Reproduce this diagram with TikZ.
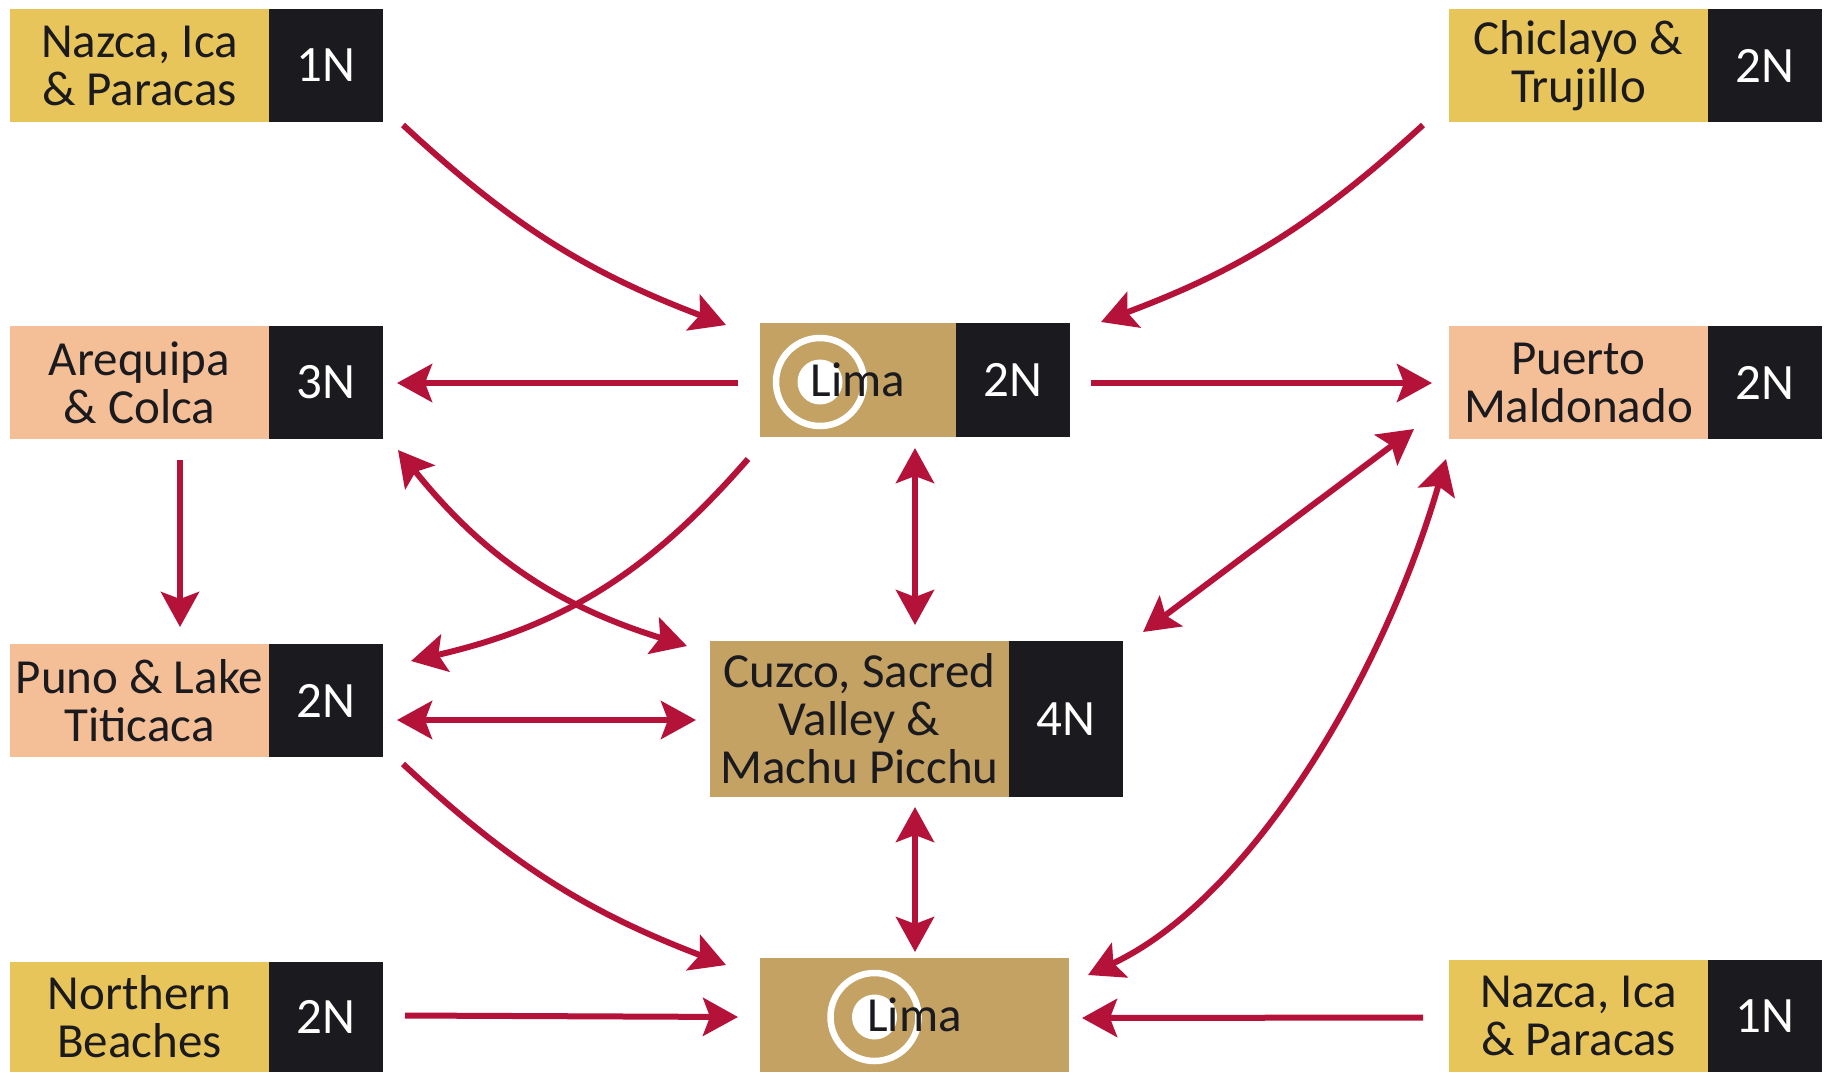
\documentclass[tikz,border=0pt]{standalone}
\usepackage{fontspec}
\setmainfont{Carlito}
\usetikzlibrary{arrows.meta,positioning}
\definecolor{route}{HTML}{B5123A}
\definecolor{hubtan}{HTML}{C4A263}
\definecolor{sideyellow}{HTML}{E8C55A}
\definecolor{sidepeach}{HTML}{F4BF97}
\definecolor{nightblack}{HTML}{1A1A1F}
\tikzset{
	place/.style={
			inner sep=0pt, outer sep=0pt, align=center, text=nightblack,
			font=\fontsize{49}{48}\selectfont, minimum height=113pt
		},
	nights/.style={
			place, fill=nightblack, text=white, minimum width=114pt,
			font=\fontsize{51}{48}\selectfont
		},
	side/.style={place, minimum width=259pt},
	hubring/.style={
			path picture={
					\fill [white] ([shift={(#1,2)}]path picture bounding box.center) circle (22.5pt);
					\draw [white, line width=6.5pt] ([shift={(#1,2)}]path picture bounding box.center) circle (44pt);
				}
		},
	trip/.style={route, line width=6pt, -{Stealth[length=35pt,width=38pt,inset=7pt]}},
	both/.style={trip, {Stealth[length=35pt,width=38pt,inset=7pt]}-{Stealth[length=35pt,width=38pt,inset=7pt]}}
}

\begin{document}
\begin{tikzpicture}[x=1pt, y=-1pt]
		\useasboundingbox (0, 0) rectangle (1831, 1072);

		\node [side, fill=sideyellow]	(nazcaA) at (139.5, 65.5) {Nazca, Ica\\\& Paracas};
		\node [nights, right=0pt of nazcaA]	(nazcaAN) {1N};
		\node [side, fill=sidepeach]	(arequipa) at (139.5, 382.5) {Arequipa\\\& Colca};
		\node [nights, right=0pt of arequipa]	(arequipaN) {3N};
		\node [side, fill=sidepeach]	(puno) at (139.5, 700.5) {Puno \& Lake\\Titicaca};
		\node [nights, right=0pt of puno]	(punoN) {2N};
		\node [side, fill=sideyellow, minimum height=110pt]	(northern) at (139.5, 1017) {Northern\\Beaches};
		\node [nights, minimum height=110pt, right=0pt of northern]	(northernN) {2N};

		\node [side, fill=sideyellow]	(chiclayo) at (1578.5, 65.5) {Chiclayo \&\\Trujillo};
		\node [nights, right=0pt of chiclayo]	(chiclayoN) {2N};
		\node [side, fill=sidepeach]	(puerto) at (1578.5, 382.5) {Puerto\\Maldonado};
		\node [nights, right=0pt of puerto]	(puertoN) {2N};
		\node [side, fill=sideyellow, minimum height=112pt]	(nazcaB) at (1578.5, 1016) {Nazca, Ica\\\& Paracas};
		\node [nights, minimum height=112pt, right=0pt of nazcaB]	(nazcaBN) {1N};

		\node [place, fill=hubtan, minimum width=196pt, minimum height=114pt, hubring=-38]	(limaTop) at (858, 380) {Lima};
		\node [nights, minimum height=114pt, right=0pt of limaTop]	(limaTopN) {2N};
		\node [place, fill=hubtan, minimum width=299pt, minimum height=156pt]	(cuzco) at (859.5, 719) {Cuzco, Sacred\\Valley \&\\Machu Picchu};
		\node [nights, minimum height=156pt, right=0pt of cuzco]	(cuzcoN) {4N};
		\node [place, fill=hubtan, minimum width=309pt, minimum height=114pt, hubring=-40]	(limaBot) at (914.5, 1015) {Lima};

		\draw [trip]	([shift={(20,3)}]nazcaAN.south east) to [bend right=11] ([shift={(-34,2)}]limaTop.north west);
		\draw [trip]	([shift={(-26,3)}]chiclayo.south west) to [bend left=11] ([shift={(31,-1)}]limaTopN.north east);
		\draw [trip]	([shift={(-22,3)}]limaTop.west) to ([shift={(14,0.5)}]arequipaN.east);
		\draw [trip]	([shift={(21,3)}]limaTopN.east) to ([shift={(-17,0.5)}]puerto.west);
		\draw [trip]	([shift={(40.5,21)}]arequipa.south) to ([shift={(40.5,-17)}]puno.north);
		\draw [trip]	([shift={(-12,22)}]limaTop.south west) to [bend left=18] ([shift={(28,17)}]punoN.north east);
		\draw [both]	([shift={(15,11)}]arequipaN.south east) to [bend right=17] ([shift={(-23,5)}]cuzco.north west);
		\draw [both]	([shift={(57,11)}]limaTop.south) to ([shift={(55.5,-16)}]cuzco.north);
		\draw [both]	([shift={(-35,-10)}]puerto.south west) to ([shift={(20,-9)}]cuzcoN.north east);
		\draw [both]	([shift={(-3,20)}]puerto.south west) .. controls +(-62,215) and +(163,-76) .. ([shift={(19,17)}]limaBot.north east);
		\draw [both]	([shift={(14,19.5)}]punoN.east) to ([shift={(-14,1)}]cuzco.west);
		\draw [trip]	([shift={(20,7)}]punoN.south east) to [bend right=11] ([shift={(-34,7)}]limaBot.north west);
		\draw [both]	([shift={(55.5,10)}]cuzco.south) to ([shift={(0.5,-6)}]limaBot.north);
		\draw [trip]	([shift={(22,-1.5)}]northernN.east) to ([shift={(-22,2)}]limaBot.west);
		\draw [trip]	([shift={(-26,1.5)}]nazcaB.west) to ([shift={(13,3)}]limaBot.east);
	\end{tikzpicture}
\end{document}
